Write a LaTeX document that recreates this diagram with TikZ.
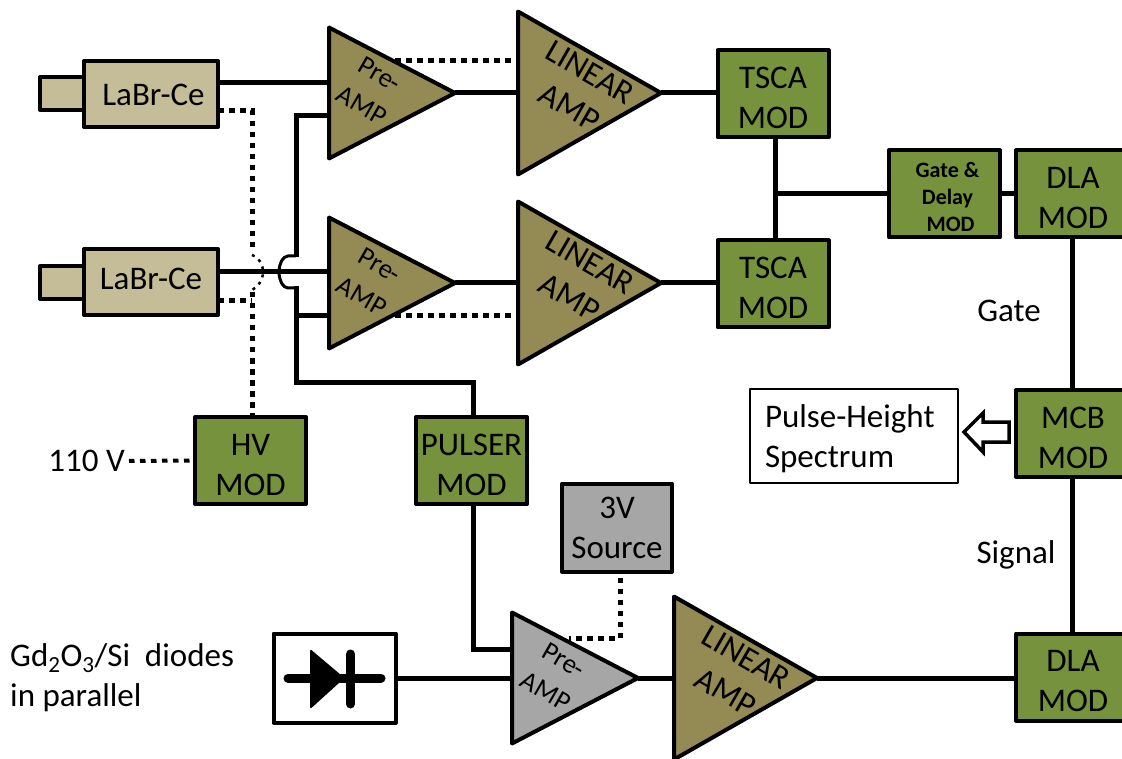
\documentclass[tikz,border=0pt]{standalone}
\usepackage{fontspec}
\setmainfont{Carlito}
\usetikzlibrary{shapes.geometric}
\definecolor{olivetri}{HTML}{948A54}
\definecolor{tanbox}{HTML}{C4BD97}
\definecolor{greenbox}{HTML}{76923C}
\definecolor{graybox}{HTML}{A6A6A6}
\newcommand{\firststrut}[2]{\rule[-#1pt]{0pt}{#2pt}}
\tikzset{
  box/.style={draw=black,line width=4pt,line join=round,inner sep=0pt,outer sep=0pt,align=center,
    font=\fontsize{33}{40}\selectfont},
  modbox/.style={box,fill=greenbox,minimum width=111pt,minimum height=87pt},
  tanb/.style={box,fill=tanbox},
  amp/.style={shape=isosceles triangle,isosceles triangle stretches,shape border rotate=0,draw=black,line width=4pt,line join=round,
     inner sep=0pt,outer sep=0pt,anchor=apex,fill=olivetri},
  preamp/.style={amp,minimum width=131pt,minimum height=126pt},
  linamp/.style={amp,minimum width=163pt,minimum height=143pt},
  pretxt/.style={rotate=-30,align=center,font=\fontsize{27}{36}\selectfont,inner sep=0pt},
  lintxt/.style={rotate=-30,align=center,font=\fontsize{33}{40}\selectfont,inner sep=0pt},
  lbl/.style={align=left,inner sep=0pt,font=\fontsize{33}{40}\selectfont},
  wire/.style={line width=5pt,line join=miter},
  jumpw/.style={line width=3pt},
  dotw/.style={line width=5pt,dash pattern=on 5.5pt off 5.5pt},
  finedot/.style={line width=4pt,dash pattern=on 5.5pt off 5.5pt},
  thindot/.style={line width=2.5pt,dash pattern=on 3pt off 5pt},
}
\begin{document}
\begin{tikzpicture}[x=1pt,y=-1pt]
\useasboundingbox (0,0) rectangle (1122,759);
% detectors
\node[tanb,minimum width=44pt,minimum height=33pt] (cap1) at (62,93.5) {};
\node[tanb,minimum width=134pt,minimum height=66pt] (lb1) at (151,94) {\hspace*{5pt}\firststrut{0}{24}LaBr-Ce};
\node[tanb,minimum width=44pt,minimum height=33pt] (cap2) at (62,282.5) {};
\node[tanb,minimum width=134pt,minimum height=66pt] (lb2) at (151,282) {\firststrut{6}{24}LaBr-Ce};
% amplifiers
\node[preamp] (p1) at (455,93) {};
\node[preamp] (p2) at (455,283) {};
\node[preamp,fill=graybox] (p3) at (638,678) {};
\node[linamp] (l1) at (661,93) {};
\node[linamp] (l2) at (661,283) {};
\node[linamp] (l3) at (817,678) {};
\node[pretxt] (p1t) at (371,90) {Pre-\\AMP};
\node[pretxt] (p2t) at (371,281) {Pre-\\AMP};
\node[pretxt] (p3t) at (555,676) {Pre-\\AMP};
\node[lintxt] (l1t) at (580,90) {LINEAR\\AMP};
\node[lintxt] (l2t) at (580,280) {LINEAR\\AMP};
\node[lintxt] (l3t) at (736,675) {LINEAR\\AMP};
% modules
\node[modbox] (ts1) at (773,94) {\firststrut{0}{30}TSCA\\MOD};
\node[modbox] (ts2) at (773,284) {\firststrut{0}{30}TSCA\\MOD};
\node[modbox,font=\bfseries\fontsize{22}{27}\selectfont] (gd) at (944.5,194) {\hspace*{6pt}\firststrut{0}{22}Gate \&\\\hspace*{6pt}Delay\\\hspace*{12pt}MOD};
\node[modbox,minimum width=114pt] (dla1) at (1073,194) {\firststrut{0}{30}DLA\\MOD};
\node[modbox,minimum width=114pt] (mcb) at (1073,433.5) {\firststrut{0}{30}MCB\\MOD};
\node[modbox,minimum width=114pt] (dla2) at (1073,677) {\firststrut{0}{30}DLA\\MOD};
\node[modbox] (hv) at (250.5,460.5) {\firststrut{0}{30}HV\\MOD};
\node[modbox] (pul) at (471.5,460.5) {\firststrut{0}{30}PULSER\\MOD};
\node[box,fill=graybox,minimum width=110pt,minimum height=88pt] (src) at (617,527.5) {3V\\Source};
\node[box,line width=2pt,fill=white,minimum width=208pt,minimum height=94pt,align=left,text width=178pt] (ph) at (854,436) {\firststrut{0}{29}Pulse-Height\\Spectrum};
\node[box,fill=white,minimum width=122pt,minimum height=89pt] (dio) at (334.5,678) {};
% diode symbol
\draw[line width=9pt,line cap=round] (288,678) -- (381,678);
\fill[line join=round,draw=black,line width=2pt] (311,651) -- (343,678) -- (311,707) -- cycle;
\draw[line width=9pt,line cap=round] (350.5,654) -- (350.5,704);
% hollow arrow
\draw[line width=3.5pt,fill=white,miter limit=10] (964,432) -- (983,413) -- (983,422) -- (1009,422) -- (1009,442) -- (983,442) -- (983,452) -- cycle;
% labels
\node[lbl,anchor=west] (gdt) at (10,677.5) {Gd\textsubscript{2}O\textsubscript{3}/Si\ \ diodes\\in parallel};
\node[lbl] (gatet) at (1009,311) {Gate};
\node[lbl] (sigt) at (1016,555) {Signal};
\node[lbl,anchor=east] (vt) at (125,461) {110 V};
% junction coordinates
\coordinate (ja) at (252,111);
\coordinate (jb) at (252,301);
\coordinate (jc) at (296,116);
\coordinate (jd) at (296,316);
\coordinate (je) at (296,382);
\coordinate (jf) at (473,649);
\coordinate (jg) at (620,638);
\coordinate (jh) at (775,194);
% solid wires
\draw[wire] (lb1.east |- 0,83) -- (p1.lower side |- 0,83);
\draw[wire] (p1.apex) -- (l1.lower side |- p1.apex);
\draw[wire] (l1.apex) -- (ts1.west |- l1.apex);
\draw[wire] (lb2.east |- 0,272) -- (p2.lower side |- 0,272);
\draw[wire] (p2.apex) -- (l2.lower side |- p2.apex);
\draw[wire] (l2.apex) -- (ts2.west |- l2.apex);
\draw[wire] (p1.lower side |- jc) -- (jc) -- (296,257.5);
\draw[jumpw] (296,256) -- (288,256) .. controls (283,256) and (279,264) .. (279,272) .. controls (279,280) and (283,288) .. (288,288) -- (296,288);
\draw[wire] (296,286.5) -- (je) -- (je -| jf) -- (jf |- pul.north);
\draw[wire] (jd) -- (p2.lower side |- jd);
\draw[wire] (jf |- pul.south) -- (jf) -- (p3.lower side |- jf);
\draw[wire] (dio.east) -- (p3.lower side |- dio.east);
\draw[wire] (p3.apex) -- (l3.lower side |- p3.apex);
\draw[wire] (l3.apex) -- (dla2.west |- l3.apex);
\draw[wire] (ts1.south -| jh) -- (ts2.north -| jh);
\draw[wire] (jh) -- (gd.west);
\draw[wire] (gd.east) -- (dla1.west);
\draw[wire] (dla1.south -| 1072,0) -- (mcb.north -| 1072,0);
\draw[wire] (mcb.south -| 1072,0) -- (dla2.north -| 1072,0);
% dotted wires
\draw[dotw] (395,61) -- (l1.lower side |- 0,61);
\draw[dotw] (395,316) -- (l2.lower side |- 0,316);
\draw[dotw] (lb1.east |- ja) -- (ja) -- (252,252);
\draw[thindot] (252,255) .. controls (260,258) and (263,265) .. (263,272) .. controls (263,280) and (258,287) .. (252,290);
\draw[dotw] (lb2.east |- jb) -- (jb);
\draw[dotw] (252,292) -- (hv.north -| 252,0);
\draw[finedot] (vt.east) ++(4,0) -- (hv.west);
\draw[dotw] (src.south -| jg) ++(0,6) -- (jg) -- (569,638);
\end{tikzpicture}
\end{document}
